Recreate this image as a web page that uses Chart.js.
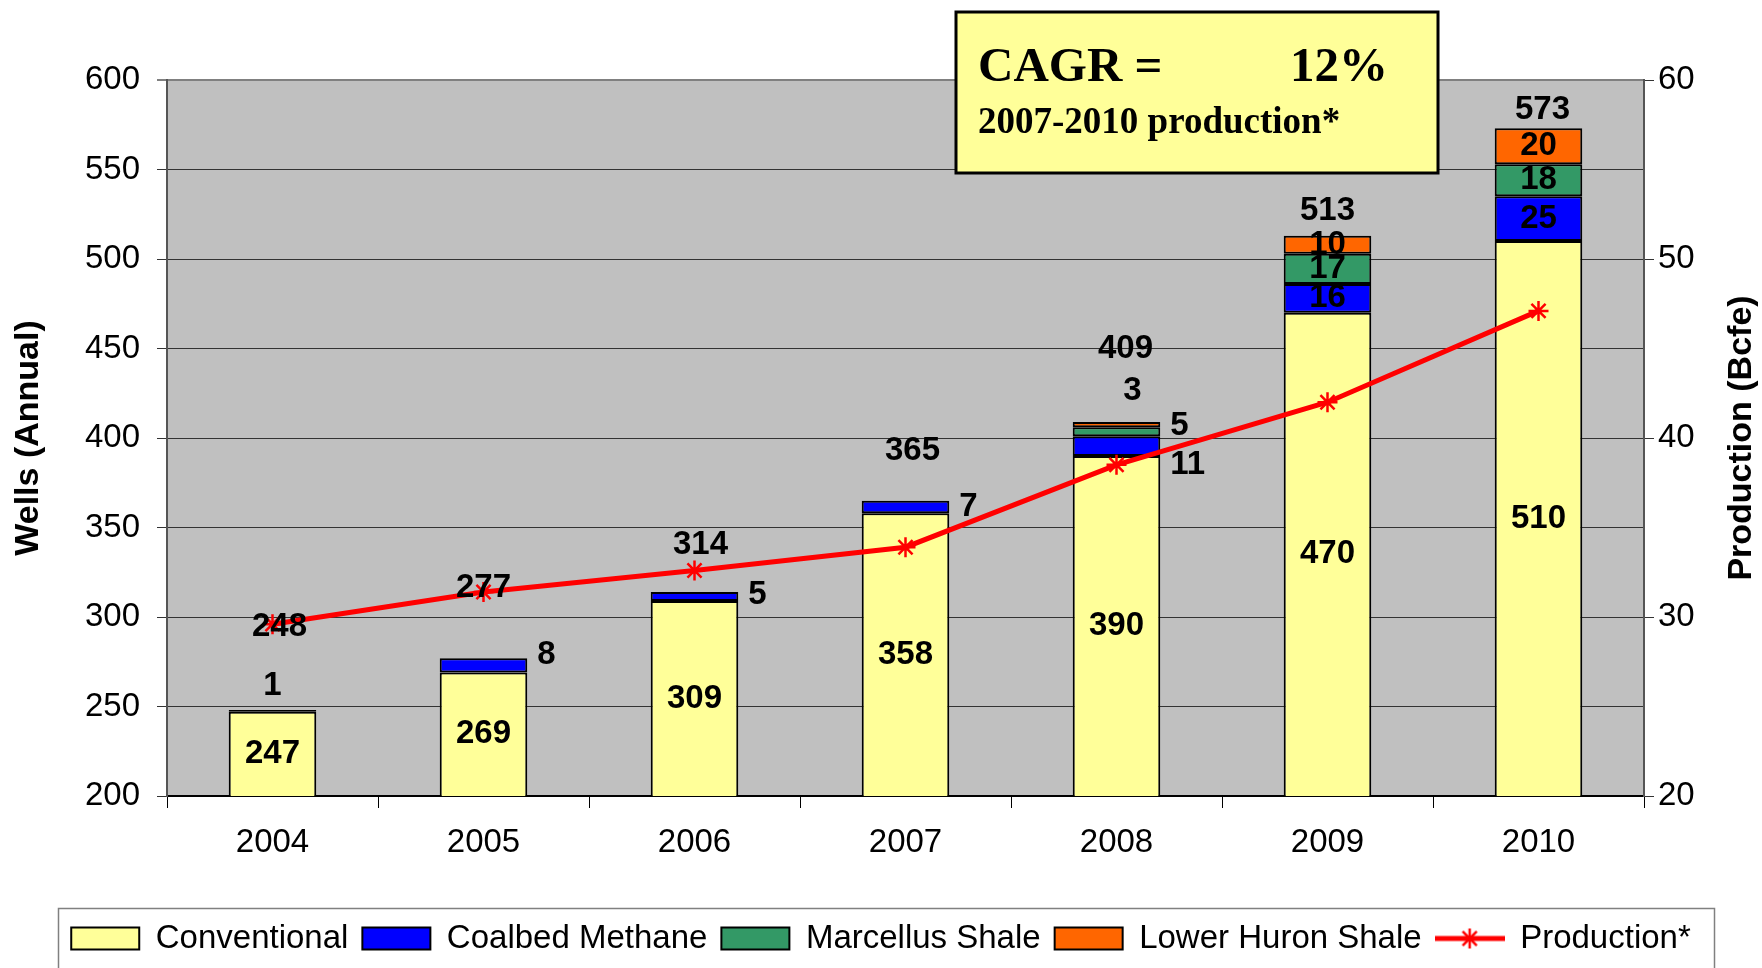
<!DOCTYPE html>
<html lang="en">
<head>
<meta charset="UTF-8">
<title>Wells Drilled and Production, 2004-2010</title>
<script src="https://cdn.jsdelivr.net/npm/chart.js"></script>
<style>
  html, body { margin: 0; padding: 0; background: #fff; }
  #wrap { width: 1762px; height: 968px; }
</style>
</head>
<body>
<div id="wrap"><canvas id="wellsChart"></canvas></div>
<script>
const years = ['2004', '2005', '2006', '2007', '2008', '2009', '2010'];
const conventional = [247, 269, 309, 358, 390, 470, 510];
const coalbedMethane = [1, 8, 5, 7, 11, 16, 25];
const marcellusShale = [0, 0, 0, 0, 5, 17, 18];
const lowerHuronShale = [0, 0, 0, 0, 3, 10, 20];
const production = [29.6, 31.4, 32.6, 33.9, 38.5, 42.0, 47.1]; // Bcfe

const SANS = '"Liberation Sans", Arial, sans-serif';
const SERIF = '"Liberation Serif", "Times New Roman", serif';

// small segments whose numbers sit beside or above the bar
const outsideLabels = {
  '1:0': { place: 'above', dx: 0, dy: 24 },
  '1:1': { place: 'right', dy: -10 },
  '1:2': { place: 'right', dy: -2 },
  '1:3': { place: 'right', dy: 0 },
  '1:4': { place: 'right', dy: 19 },
  '2:4': { place: 'right', dy: -6 },
  '3:4': { place: 'above', dx: 16, dy: 31 }
};
// how far each total sits above its bar
const totalLift = [83, 70, 47, 50, 73, 25, 18];
const totalShift = [7, 0, 6, 7, 9, 0, 4];

// legend icon for the production line: red line with asterisk marker
const lineIcon = document.createElement('canvas');
lineIcon.width = 70; lineIcon.height = 26;
(function () {
  const c = lineIcon.getContext('2d');
  c.strokeStyle = '#FF0000';
  c.lineWidth = 5;
  c.beginPath(); c.moveTo(0, 13); c.lineTo(70, 13); c.stroke();
  c.lineWidth = 2.5;
  for (let k = 0; k < 4; k++) {
    const a = k * Math.PI / 4;
    c.beginPath();
    c.moveTo(35 - 10 * Math.cos(a), 13 - 10 * Math.sin(a));
    c.lineTo(35 + 10 * Math.cos(a), 13 + 10 * Math.sin(a));
    c.stroke();
  }
})();

const plotBackground = {
  id: 'plotBackground',
  beforeDraw(chart) {
    const { ctx, chartArea: a } = chart;
    ctx.save();
    ctx.fillStyle = '#C0C0C0';
    ctx.fillRect(a.left, a.top, a.right - a.left, a.bottom - a.top);
    ctx.restore();
  }
};

const stackLabels = {
  id: 'stackLabels',
  afterDatasetsDraw(chart) {
    const { ctx } = chart;
    const yScale = chart.scales.y;
    ctx.save();
    ctx.fillStyle = '#000';
    ctx.font = 'bold 33px ' + SANS;
    ctx.textBaseline = 'middle';
    for (let d = 0; d < 4; d++) {
      const meta = chart.getDatasetMeta(d);
      const values = chart.data.datasets[d].data;
      meta.data.forEach((el, i) => {
        const v = values[i];
        if (!v) return;
        const cy = (el.y + Math.min(el.base, yScale.bottom)) / 2;
        const spot = outsideLabels[d + ':' + i];
        if (!spot) {
          ctx.textAlign = 'center';
          ctx.fillText(String(v), el.x, cy);
        } else if (spot.place === 'right') {
          ctx.textAlign = 'left';
          ctx.fillText(String(v), el.x + el.width / 2 + 10, cy + spot.dy);
        } else {
          ctx.textAlign = 'center';
          ctx.fillText(String(v), el.x + spot.dx, el.y - spot.dy);
        }
      });
    }
    // stack totals
    const barMeta = chart.getDatasetMeta(0);
    ctx.textAlign = 'center';
    years.forEach((yr, i) => {
      const total = conventional[i] + coalbedMethane[i] + marcellusShale[i] + lowerHuronShale[i];
      const x = barMeta.data[i].x + totalShift[i];
      const y = yScale.getPixelForValue(total) - totalLift[i];
      ctx.fillText(String(total), x, y);
    });
    ctx.restore();
  }
};

const notes = {
  id: 'notes',
  afterDraw(chart) {
    const { ctx, chartArea: a } = chart;
    ctx.save();
    // right axis title, reading bottom to top
    ctx.translate(1742, (a.top + a.bottom) / 2);
    ctx.rotate(-Math.PI / 2);
    ctx.fillStyle = '#000';
    ctx.font = 'bold 34px ' + SANS;
    ctx.textAlign = 'center';
    ctx.textBaseline = 'middle';
    ctx.fillText('Production (Bcfe)', 0, 0);
    ctx.restore();

    ctx.save();
    // frame around the legend
    ctx.strokeStyle = '#808080';
    ctx.lineWidth = 1.5;
    ctx.strokeRect(58.5, 908.5, 1656, 62);
    // growth rate box
    ctx.fillStyle = '#FFFF99';
    ctx.fillRect(956, 12, 482, 161);
    ctx.strokeStyle = '#000';
    ctx.lineWidth = 3;
    ctx.strokeRect(956, 12, 482, 161);
    ctx.fillStyle = '#000';
    ctx.textBaseline = 'alphabetic';
    ctx.textAlign = 'left';
    ctx.font = 'bold 49px ' + SERIF;
    ctx.fillText('CAGR =', 978, 81);
    ctx.fillText('12%', 1290, 81);
    ctx.font = 'bold 37px ' + SERIF;
    ctx.fillText('2007-2010 production*', 978, 133);
    ctx.restore();
  }
};

const barBase = {
  borderColor: '#000',
  borderWidth: 2,
  borderSkipped: false,
  barPercentage: 0.415,
  categoryPercentage: 1,
  stack: 'wells',
  yAxisID: 'y'
};

new Chart(document.getElementById('wellsChart'), {
  type: 'bar',
  data: {
    labels: years,
    datasets: [
      { ...barBase, label: 'Conventional', data: conventional, backgroundColor: '#FFFF99' },
      { ...barBase, label: 'Coalbed Methane', data: coalbedMethane, backgroundColor: '#0000FF' },
      { ...barBase, label: 'Marcellus Shale', data: marcellusShale, backgroundColor: '#339966' },
      { ...barBase, label: 'Lower Huron Shale', data: lowerHuronShale, backgroundColor: '#FF6600' },
      {
        type: 'line', label: 'Production*', data: production, yAxisID: 'y1', order: -1,
        borderColor: '#FF0000', backgroundColor: '#FF0000', borderWidth: 5, tension: 0,
        pointStyle: 'star', pointRadius: 10, pointBorderWidth: 2.5, pointBorderColor: '#FF0000'
      }
    ]
  },
  options: {
    responsive: true,
    maintainAspectRatio: false,
    animation: false,
    layout: { padding: { top: 80, left: 0, right: 0, bottom: 3 } },
    scales: {
      x: {
        stacked: true,
        offset: true,
        grid: { offset: true, drawOnChartArea: false, tickLength: 12, color: '#000', lineWidth: 1 },
        border: { color: '#000', width: 2 },
        ticks: { color: '#000', font: { family: SANS, size: 33 }, padding: 15 },
        afterFit: s => { s.height = 112; }
      },
      y: {
        stacked: true,
        min: 200, max: 600,
        ticks: { stepSize: 50, color: '#000', font: { family: SANS, size: 33 }, padding: 17 },
        grid: {
          tickLength: 10,
          color: c => (c.tick && c.tick.value === 600 ? '#808080' : '#333'),
          lineWidth: c => (c.tick && c.tick.value === 600 ? 2 : 1)
        },
        border: { color: '#555', width: 2 },
        title: { display: true, text: 'Wells (Annual)', color: '#000', font: { family: SANS, size: 34, weight: 'bold' }, padding: { top: 8, bottom: 0 } },
        afterFit: s => { s.width = 167; }
      },
      y1: {
        position: 'right',
        min: 20, max: 60,
        ticks: { stepSize: 10, color: '#000', font: { family: SANS, size: 33 }, padding: 4 },
        grid: { drawOnChartArea: false, tickLength: 10, color: '#333' },
        border: { color: '#555', width: 2 },
        afterFit: s => { s.width = 118; }
      }
    },
    plugins: {
      legend: {
        position: 'bottom',
        labels: {
          usePointStyle: true,
          pointStyleWidth: 68,
          boxHeight: 22,
          padding: 14,
          color: '#000',
          font: { family: SANS, size: 33 },
          generateLabels(chart) {
            const items = Chart.defaults.plugins.legend.labels.generateLabels(chart);
            items.forEach(item => {
              const ds = chart.data.datasets[item.datasetIndex];
              if (ds.type === 'line') {
                item.pointStyle = lineIcon;
              } else {
                item.pointStyle = 'rect';
                item.strokeStyle = '#000';
                item.lineWidth = 2;
              }
            });
            return items.sort((a, b) => a.datasetIndex - b.datasetIndex);
          }
        }
      },
      tooltip: { enabled: false }
    }
  },
  plugins: [plotBackground, stackLabels, notes]
});
</script>
</body>
</html>
